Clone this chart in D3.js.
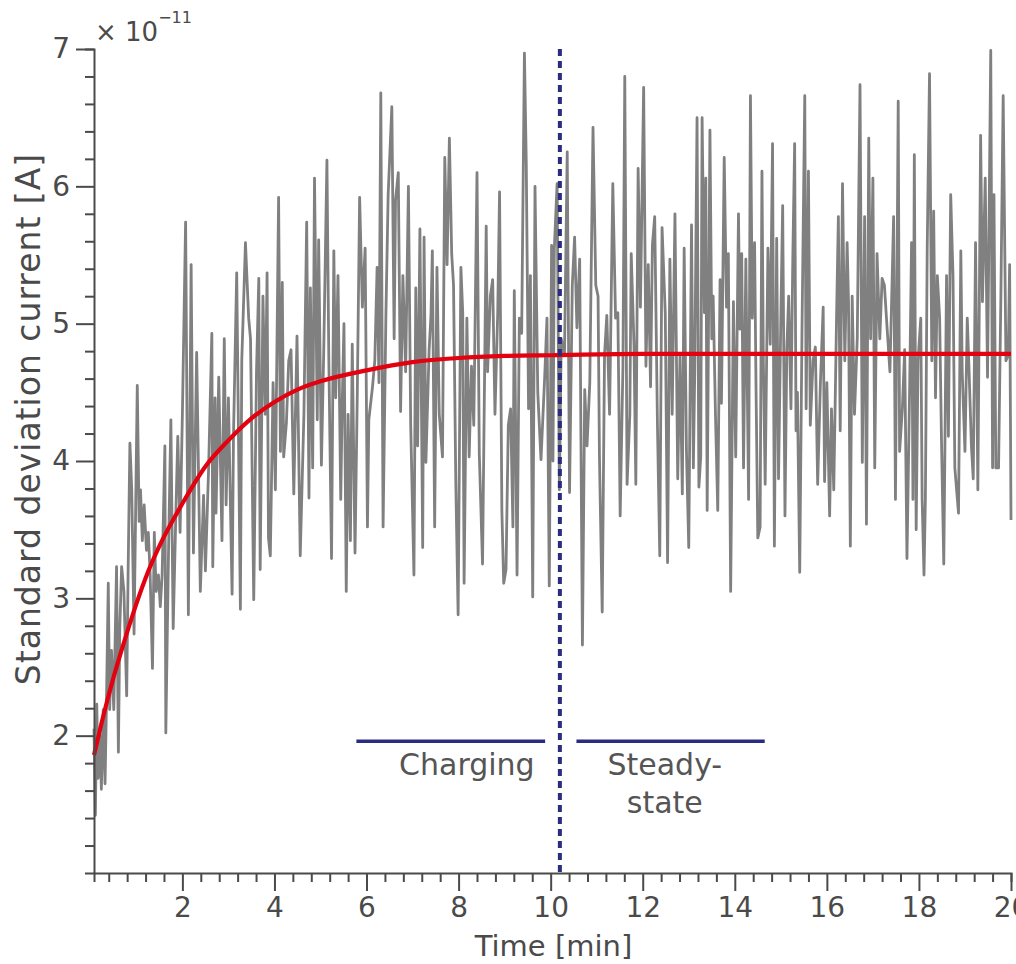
<!DOCTYPE html>
<html>
<head>
<meta charset="utf-8">
<script src="https://cdn.jsdelivr.net/npm/d3@7"></script>
<style>
  body { margin: 0; background: #fff; }
  svg { display: block; font-family: "DejaVu Sans", sans-serif; }
</style>
</head>
<body>
<div id="chart"></div>
<script>
// measured trace, time in min, current in units of 1e-11 A
const time = [
  0.08, 0.11, 0.14, 0.17, 0.21, 0.24, 0.28, 0.32, 0.35, 0.39, 0.42, 0.46, 0.51, 0.57, 0.61, 0.64, 0.68, 0.73, 0.79, 0.82,
  0.86, 0.90, 0.95, 1.02, 1.06, 1.09, 1.13, 1.17, 1.22, 1.26, 1.30, 1.35, 1.39, 1.43, 1.48, 1.52, 1.56, 1.62, 1.64, 1.70,
  1.75, 1.80, 1.86, 1.90, 1.95, 2.00, 2.07, 2.13, 2.19, 2.24, 2.31, 2.39, 2.46, 2.50, 2.57, 2.64, 2.66, 2.71, 2.73, 2.79,
  2.86, 2.91, 2.95, 3.00, 3.08, 3.11, 3.18, 3.26, 3.29, 3.37, 3.44, 3.48, 3.55, 3.61, 3.66, 3.69, 3.75, 3.80, 3.84, 3.87,
  3.91, 3.97, 4.02, 4.09, 4.13, 4.17, 4.20, 4.26, 4.31, 4.36, 4.42, 4.49, 4.56, 4.64, 4.70, 4.75, 4.78, 4.83, 4.87, 4.93,
  4.96, 5.02, 5.07, 5.14, 5.18, 5.24, 5.29, 5.33, 5.38, 5.44, 5.47, 5.51, 5.56, 5.60, 5.65, 5.69, 5.75, 5.80, 5.85, 5.91,
  5.97, 6.02, 6.05, 6.13, 6.18, 6.23, 6.27, 6.31, 6.36, 6.42, 6.47, 6.55, 6.60, 6.63, 6.69, 6.74, 6.79, 6.85, 6.91, 6.96,
  7.03, 7.07, 7.11, 7.16, 7.22, 7.25, 7.29, 7.36, 7.40, 7.43, 7.48, 7.53, 7.58, 7.65, 7.70, 7.75, 7.80, 7.85, 7.89, 7.94,
  7.99, 8.05, 8.09, 8.12, 8.18, 8.23, 8.28, 8.33, 8.40, 8.45, 8.52, 8.60, 8.63, 8.69, 8.74, 8.79, 8.85, 8.89, 8.94, 8.98,
  9.03, 9.08, 9.13, 9.18, 9.21, 9.27, 9.32, 9.37, 9.43, 9.47, 9.52, 9.56, 9.61, 9.66, 9.72, 9.79, 9.87, 9.92, 9.97, 10.02,
  10.05, 10.08, 10.14, 10.19, 10.23, 10.30, 10.36, 10.41, 10.47, 10.52, 10.57, 10.63, 10.69, 10.74, 10.79, 10.85, 10.92, 10.98, 11.03, 11.06,
  11.12, 11.17, 11.22, 11.28, 11.35, 11.41, 11.46, 11.51, 11.57, 11.61, 11.66, 11.72, 11.75, 11.81, 11.85, 11.90, 11.95, 12.02, 12.07, 12.12,
  12.17, 12.21, 12.26, 12.32, 12.37, 12.42, 12.49, 12.54, 12.59, 12.64, 12.70, 12.76, 12.81, 12.86, 12.90, 12.95, 13.00, 13.06, 13.10, 13.13,
  13.18, 13.22, 13.26, 13.29, 13.34, 13.37, 13.40, 13.46, 13.50, 13.53, 13.58, 13.63, 13.68, 13.71, 13.77, 13.82, 13.86, 13.91, 13.97, 14.02,
  14.08, 14.11, 14.15, 14.19, 14.24, 14.30, 14.34, 14.38, 14.43, 14.46, 14.50, 14.55, 14.59, 14.62, 14.66, 14.72, 14.77, 14.82, 14.86, 14.91,
  14.95, 15.00, 15.04, 15.09, 15.13, 15.17, 15.22, 15.26, 15.30, 15.33, 15.36, 15.41, 15.46, 15.52, 15.55, 15.60, 15.64, 15.70, 15.75, 15.80,
  15.86, 15.92, 15.95, 16.00, 16.06, 16.10, 16.15, 16.21, 16.25, 16.29, 16.34, 16.39, 16.44, 16.47, 16.51, 16.55, 16.60, 16.66, 16.72, 16.77,
  16.82, 16.86, 16.91, 16.95, 17.00, 17.04, 17.09, 17.15, 17.20, 17.25, 17.31, 17.37, 17.42, 17.45, 17.49, 17.55, 17.58, 17.64, 17.69, 17.74,
  17.80, 17.84, 17.87, 17.90, 17.94, 17.98, 18.04, 18.07, 18.11, 18.14, 18.18, 18.23, 18.28, 18.32, 18.36, 18.40, 18.45, 18.49, 18.54, 18.60,
  18.64, 18.69, 18.74, 18.78, 18.86, 18.91, 18.94, 19.00, 19.05, 19.09, 19.14, 19.18, 19.23, 19.28, 19.34, 19.38, 19.44, 19.49, 19.56, 19.60,
  19.63, 19.67, 19.73, 19.78, 19.83, 19.89, 19.94, 19.97, 20.00
];
const current = [
  2.05, 1.42, 2.23, 1.69, 2.00, 1.61, 2.19, 1.65, 2.23, 3.11, 2.19, 2.62, 2.19, 3.23, 1.88, 2.78, 3.23, 3.05, 2.29, 3.17,
  4.13, 3.79, 2.74, 4.55, 3.56, 3.79, 3.42, 3.68, 3.35, 3.48, 3.17, 2.49, 3.48, 3.05, 3.17, 2.94, 3.17, 4.11, 2.02, 3.37,
  4.30, 2.78, 3.64, 4.18, 3.48, 4.34, 5.74, 2.88, 5.43, 3.33, 4.79, 3.05, 3.75, 3.20, 3.95, 4.93, 3.23, 4.46, 3.62, 4.61,
  3.42, 4.89, 3.68, 4.46, 3.03, 4.18, 5.37, 2.92, 4.73, 5.59, 5.04, 4.89, 2.99, 4.65, 5.33, 3.21, 5.20, 4.34, 5.37, 3.44,
  3.31, 4.57, 3.79, 5.92, 4.07, 5.30, 4.03, 4.28, 4.73, 4.81, 3.76, 4.91, 3.31, 4.34, 5.74, 3.73, 5.26, 3.95, 6.06, 4.30,
  5.61, 3.97, 4.79, 6.19, 4.77, 3.29, 5.53, 4.46, 5.35, 3.72, 4.38, 5.00, 3.05, 4.34, 3.42, 4.85, 3.33, 4.50, 5.92, 5.12,
  5.55, 3.52, 4.30, 4.54, 4.73, 5.41, 4.57, 6.68, 3.52, 5.04, 5.94, 6.58, 4.89, 5.90, 6.10, 4.36, 5.35, 4.65, 6.00, 4.26,
  3.17, 5.26, 4.11, 5.69, 3.37, 5.63, 3.99, 4.81, 5.06, 5.53, 3.52, 5.41, 4.34, 4.03, 6.21, 5.43, 6.35, 5.51, 5.28, 3.83,
  2.88, 5.41, 5.08, 3.11, 5.04, 4.03, 4.69, 4.26, 6.10, 4.05, 3.25, 5.71, 4.65, 5.20, 5.32, 4.34, 5.08, 5.96, 3.64, 3.11,
  3.21, 4.26, 4.38, 3.52, 5.24, 3.17, 5.04, 4.93, 6.97, 6.17, 4.38, 5.35, 3.01, 6.00, 4.50, 4.01, 4.61, 5.04, 3.09, 5.57,
  4.00, 5.55, 6.02, 3.79, 4.89, 4.77, 6.25, 3.77, 5.28, 5.63, 4.97, 5.47, 2.66, 4.52, 4.11, 4.57, 6.43, 5.28, 5.20, 4.03,
  2.90, 4.77, 5.06, 4.34, 6.02, 5.04, 5.08, 3.60, 4.69, 6.80, 3.83, 4.34, 5.51, 4.85, 3.83, 6.13, 5.12, 6.72, 4.69, 5.43,
  4.54, 5.57, 5.78, 4.26, 3.31, 5.70, 5.07, 3.26, 5.47, 4.34, 5.80, 3.87, 4.77, 3.76, 5.55, 4.07, 3.37, 5.72, 3.95, 4.65,
  6.50, 3.81, 4.03, 6.50, 5.08, 6.06, 3.64, 6.41, 4.89, 5.20, 4.34, 3.64, 5.32, 4.42, 6.21, 5.12, 5.51, 3.05, 5.16, 4.03,
  5.80, 4.96, 5.51, 3.95, 5.47, 3.72, 6.66, 5.04, 5.59, 4.57, 3.44, 3.52, 6.11, 4.73, 3.83, 5.55, 4.85, 6.31, 3.38, 5.62,
  3.87, 5.04, 5.86, 3.60, 4.81, 5.20, 4.38, 5.47, 6.31, 4.22, 4.50, 3.19, 4.96, 6.66, 4.38, 6.11, 4.26, 4.73, 4.83, 3.83,
  4.57, 5.12, 3.85, 4.57, 3.60, 4.38, 3.79, 5.04, 5.78, 4.22, 6.02, 4.73, 5.59, 5.16, 3.38, 5.20, 4.34, 4.89, 6.74, 3.99,
  5.78, 3.54, 6.35, 4.89, 6.06, 3.95, 5.51, 4.89, 5.33, 5.28, 4.96, 4.65, 5.35, 5.78, 3.72, 6.62, 4.07, 4.38, 4.81, 3.29,
  4.57, 5.59, 3.72, 6.23, 3.50, 4.73, 5.04, 3.72, 3.17, 3.72, 5.55, 6.82, 4.73, 5.82, 4.46, 5.35, 5.04, 4.15, 3.25, 5.35,
  4.18, 5.94, 5.35, 3.95, 3.62, 5.53, 4.65, 4.07, 5.04, 4.65, 4.11, 3.87, 5.59, 3.79, 6.37, 5.16, 6.06, 4.61, 6.99, 3.95,
  5.94, 3.95, 3.95, 5.20, 6.66, 4.73, 4.77, 5.43, 3.57
];

// exponential fit (red)
const fitTime = [0.08, 0.25, 0.5, 0.75, 1, 1.25, 1.5, 2, 2.5, 3, 3.5, 4, 4.5, 5, 6, 7, 8, 9, 10, 12, 14, 16, 18, 20];
const fitCurrent = [1.86, 2.10, 2.42, 2.70, 2.96, 3.19, 3.38, 3.69, 3.96, 4.15, 4.31, 4.43, 4.52, 4.58, 4.66, 4.72, 4.75, 4.765, 4.77, 4.78, 4.78, 4.78, 4.78, 4.78];

const xTicks = [2, 4, 6, 8, 10, 12, 14, 16, 18, 20];
const yTicks = [2, 3, 4, 5, 6, 7];
const switchTime = 10.2;
const phases = [
  { label: ["Charging"], from: 5.78, to: 9.88, textAt: 8.18 },
  { label: ["Steady-", "state"], from: 10.56, to: 14.65, textAt: 12.48 }
];
const phaseLevel = 1.96;

const width = 1016;
const height = 964;
const margin = { top: 49, right: 5, bottom: 91, left: 94 };
const textColor = "#4a4a4a";
const navy = "#2b2b80";

const svg = d3.select("#chart")
  .append("svg")
  .attr("width", width)
  .attr("height", height);

const x = d3.scaleLinear()
  .domain([0.08, 20])
  .range([margin.left, width - margin.right]);

const y = d3.scaleLinear()
  .domain([1, 7])
  .range([height - margin.bottom, margin.top]);

// noisy trace
const trace = time.map((t, i) => [t, current[i]]);
svg.append("path")
  .datum(trace)
  .attr("fill", "none")
  .attr("stroke", "#808080")
  .attr("stroke-width", 2.8)
  .attr("stroke-linejoin", "round")
  .attr("d", d3.line().x(d => x(d[0])).y(d => y(d[1])));

// fit
const fit = fitTime.map((t, i) => [t, fitCurrent[i]]);
svg.append("path")
  .datum(fit)
  .attr("fill", "none")
  .attr("stroke", "#e3000f")
  .attr("stroke-width", 4.2)
  .attr("d", d3.line().curve(d3.curveMonotoneX).x(d => x(d[0])).y(d => y(d[1])));

// switch between phases
svg.append("line")
  .attr("x1", x(switchTime)).attr("x2", x(switchTime))
  .attr("y1", y(7)).attr("y2", y(1))
  .attr("stroke", navy)
  .attr("stroke-width", 4)
  .attr("stroke-dasharray", "7,5");

phases.forEach(p => {
  svg.append("line")
    .attr("x1", x(p.from)).attr("x2", x(p.to))
    .attr("y1", y(phaseLevel)).attr("y2", y(phaseLevel))
    .attr("stroke", navy)
    .attr("stroke-width", 3.5);
  p.label.forEach((s, i) => {
    svg.append("text")
      .attr("x", x(p.textAt))
      .attr("y", y(phaseLevel) + 34 + i * 38)
      .attr("text-anchor", "middle")
      .attr("font-size", 30)
      .attr("fill", "#555")
      .text(s);
  });
});

// axes
function styleAxis(g) {
  g.select(".domain").attr("stroke", textColor).attr("stroke-width", 2);
  g.selectAll(".tick line").attr("stroke", textColor).attr("stroke-width", 2);
  g.selectAll(".tick text").attr("fill", textColor).attr("font-size", 28)
    .attr("font-family", "DejaVu Sans, sans-serif");
}

const xMinor = d3.range(0.4, 20.01, 0.4).map(v => +v.toFixed(1)).filter(v => !xTicks.includes(v));
const yMinor = d3.range(1.2, 7.01, 0.2).map(v => +v.toFixed(1)).filter(v => !yTicks.includes(v));

svg.append("g")
  .attr("transform", `translate(0,${height - margin.bottom})`)
  .call(d3.axisBottom(x).tickValues(xMinor).tickSize(9).tickFormat(""))
  .call(styleAxis);

svg.append("g")
  .attr("transform", `translate(0,${height - margin.bottom})`)
  .call(d3.axisBottom(x).tickValues(xTicks).tickSize(18).tickPadding(6).tickFormat(d3.format("d")))
  .call(styleAxis)
  .call(g => g.select(".domain").remove());

svg.append("g")
  .attr("transform", `translate(${margin.left},0)`)
  .call(d3.axisLeft(y).tickValues(yMinor).tickSize(9).tickFormat(""))
  .call(styleAxis);

svg.append("g")
  .attr("transform", `translate(${margin.left},0)`)
  .call(d3.axisLeft(y).tickValues(yTicks).tickSize(18).tickPadding(6).tickFormat(d3.format("d")))
  .call(styleAxis)
  .call(g => g.select(".domain").remove());

// axis titles
svg.append("text")
  .attr("x", (margin.left + width - margin.right) / 2 + 1)
  .attr("y", 956)
  .attr("text-anchor", "middle")
  .attr("font-size", 29)
  .attr("fill", textColor)
  .text("Time [min]");

svg.append("text")
  .attr("transform", `translate(40,${(margin.top + height - margin.bottom) / 2 - 42}) rotate(-90)`)
  .attr("text-anchor", "middle")
  .attr("font-size", 33)
  .attr("letter-spacing", 1)
  .attr("fill", textColor)
  .text("Standard deviation current [A]");

// scale exponent
const expo = svg.append("text")
  .attr("x", 95)
  .attr("y", 41)
  .attr("font-size", 26)
  .attr("fill", textColor);
expo.append("tspan").text("\u00d7 10");
expo.append("tspan").attr("dy", -18).attr("font-size", 16).text("\u221211");
</script>
</body>
</html>
